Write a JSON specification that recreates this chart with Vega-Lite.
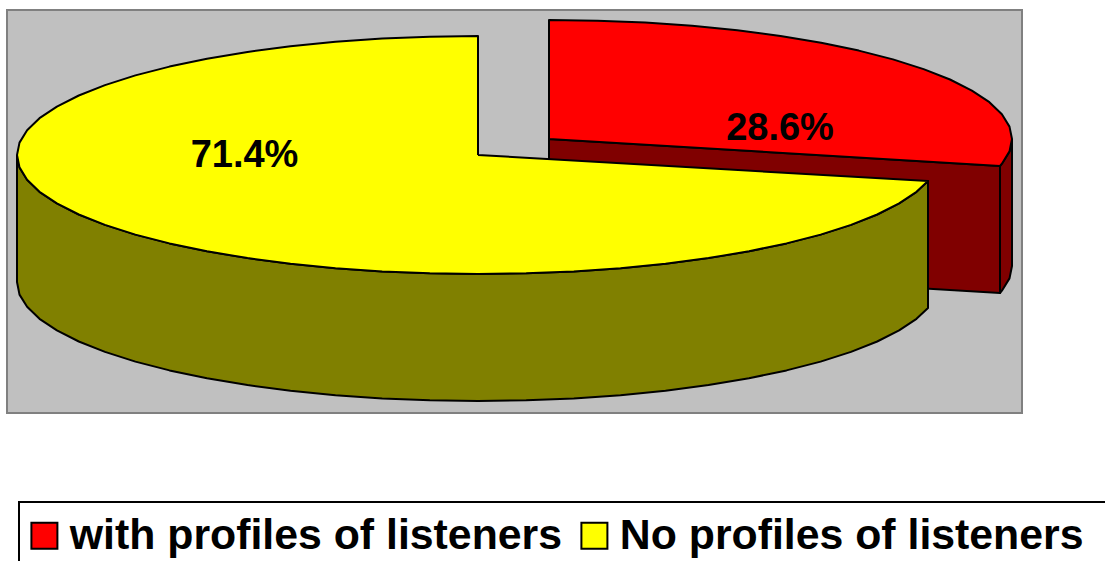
{
  "$schema": "https://vega.github.io/schema/vega-lite/v6.json",
  "width": 1015,
  "height": 403,
  "padding": {"left": 7, "top": 10, "right": 83, "bottom": 148},
  "autosize": {"type": "none"},
  "background": "white",
  "view": {"fill": "#c0c0c0", "stroke": "#808080", "strokeWidth": 2},
  "datasets": {
    "faces": [
      {"part": "redInner", "face": "with profiles of listeners, side"},
      {"part": "redWall", "face": "with profiles of listeners, side"},
      {"part": "redTop", "face": "with profiles of listeners"},
      {"part": "yellowWall", "face": "No profiles of listeners, side"},
      {"part": "yellowTop", "face": "No profiles of listeners"}
    ],
    "shares": [
      {"share": "71.4%", "x": 237.5, "y": 146},
      {"share": "28.6%", "x": 773, "y": 119}
    ],
    "legendFrame": [
      {"x": 12, "x2": 1140, "y": 492, "y2": 590}
    ],
    "outline": [
      {"part":"redInner","i":0,"x":542,"y":129},{"part":"redInner","i":1,"x":993,"y":156},{"part":"redInner","i":2,"x":993,"y":283},{"part":"redInner","i":3,"x":542,"y":256},{"part":"redInner","i":4,"x":542,"y":129},

      {"part":"redWall","i":0,"x":1005,"y":129},{"part":"redWall","i":1,"x":1002.5,"y":141.4},{"part":"redWall","i":2,"x":994.9,"y":153.7},{"part":"redWall","i":3,"x":993,"y":156},{"part":"redWall","i":4,"x":993,"y":283},{"part":"redWall","i":5,"x":994.9,"y":280.7},{"part":"redWall","i":6,"x":1002.5,"y":268.4},{"part":"redWall","i":7,"x":1005,"y":256},{"part":"redWall","i":8,"x":1005,"y":129},

      {"part":"redTop","i":0,"x":542,"y":129},{"part":"redTop","i":1,"x":542,"y":10},{"part":"redTop","i":2,"x":590.4,"y":10.7},{"part":"redTop","i":3,"x":638.3,"y":12.6},{"part":"redTop","i":4,"x":685.1,"y":15.8},{"part":"redTop","i":5,"x":730.3,"y":20.3},{"part":"redTop","i":6,"x":773.5,"y":25.9},{"part":"redTop","i":7,"x":814.1,"y":32.7},{"part":"redTop","i":8,"x":851.8,"y":40.6},{"part":"redTop","i":9,"x":886,"y":49.4},{"part":"redTop","i":10,"x":916.6,"y":59.1},{"part":"redTop","i":11,"x":943,"y":69.5},{"part":"redTop","i":12,"x":964.9,"y":80.6},{"part":"redTop","i":13,"x":982.4,"y":92.2},{"part":"redTop","i":14,"x":994.9,"y":104.3},{"part":"redTop","i":15,"x":1002.5,"y":116.6},{"part":"redTop","i":16,"x":1005,"y":129},{"part":"redTop","i":17,"x":1002.5,"y":141.4},{"part":"redTop","i":18,"x":994.9,"y":153.7},{"part":"redTop","i":19,"x":993,"y":156},{"part":"redTop","i":20,"x":542,"y":129},

      {"part":"yellowWall","i":0,"x":10,"y":145},{"part":"yellowWall","i":1,"x":12.5,"y":157.4},{"part":"yellowWall","i":2,"x":20.1,"y":169.7},{"part":"yellowWall","i":3,"x":32.5,"y":181.8},{"part":"yellowWall","i":4,"x":49.9,"y":193.4},{"part":"yellowWall","i":5,"x":71.8,"y":204.5},{"part":"yellowWall","i":6,"x":98,"y":214.9},{"part":"yellowWall","i":7,"x":128.4,"y":224.6},{"part":"yellowWall","i":8,"x":162.5,"y":233.4},{"part":"yellowWall","i":9,"x":200,"y":241.3},{"part":"yellowWall","i":10,"x":240.5,"y":248.1},{"part":"yellowWall","i":11,"x":283.5,"y":253.7},{"part":"yellowWall","i":12,"x":328.5,"y":258.2},{"part":"yellowWall","i":13,"x":375.2,"y":261.4},{"part":"yellowWall","i":14,"x":422.8,"y":263.3},{"part":"yellowWall","i":15,"x":471,"y":264},{"part":"yellowWall","i":16,"x":519.2,"y":263.3},{"part":"yellowWall","i":17,"x":566.8,"y":261.4},{"part":"yellowWall","i":18,"x":613.5,"y":258.2},{"part":"yellowWall","i":19,"x":658.5,"y":253.7},{"part":"yellowWall","i":20,"x":701.5,"y":248.1},{"part":"yellowWall","i":21,"x":742,"y":241.3},{"part":"yellowWall","i":22,"x":779.5,"y":233.4},{"part":"yellowWall","i":23,"x":813.6,"y":224.6},{"part":"yellowWall","i":24,"x":844,"y":214.9},{"part":"yellowWall","i":25,"x":870.2,"y":204.5},{"part":"yellowWall","i":26,"x":892.1,"y":193.4},{"part":"yellowWall","i":27,"x":909.5,"y":181.8},{"part":"yellowWall","i":28,"x":921,"y":171},
      {"part":"yellowWall","i":29,"x":921,"y":298},{"part":"yellowWall","i":30,"x":909.5,"y":308.8},{"part":"yellowWall","i":31,"x":892.1,"y":320.4},{"part":"yellowWall","i":32,"x":870.2,"y":331.5},{"part":"yellowWall","i":33,"x":844,"y":341.9},{"part":"yellowWall","i":34,"x":813.6,"y":351.6},{"part":"yellowWall","i":35,"x":779.5,"y":360.4},{"part":"yellowWall","i":36,"x":742,"y":368.3},{"part":"yellowWall","i":37,"x":701.5,"y":375.1},{"part":"yellowWall","i":38,"x":658.5,"y":380.7},{"part":"yellowWall","i":39,"x":613.5,"y":385.2},{"part":"yellowWall","i":40,"x":566.8,"y":388.4},{"part":"yellowWall","i":41,"x":519.2,"y":390.3},{"part":"yellowWall","i":42,"x":471,"y":391},{"part":"yellowWall","i":43,"x":422.8,"y":390.3},{"part":"yellowWall","i":44,"x":375.2,"y":388.4},{"part":"yellowWall","i":45,"x":328.5,"y":385.2},{"part":"yellowWall","i":46,"x":283.5,"y":380.7},{"part":"yellowWall","i":47,"x":240.5,"y":375.1},{"part":"yellowWall","i":48,"x":200,"y":368.3},{"part":"yellowWall","i":49,"x":162.5,"y":360.4},{"part":"yellowWall","i":50,"x":128.4,"y":351.6},{"part":"yellowWall","i":51,"x":98,"y":341.9},{"part":"yellowWall","i":52,"x":71.8,"y":331.5},{"part":"yellowWall","i":53,"x":49.9,"y":320.4},{"part":"yellowWall","i":54,"x":32.5,"y":308.8},{"part":"yellowWall","i":55,"x":20.1,"y":296.7},{"part":"yellowWall","i":56,"x":12.5,"y":284.6},{"part":"yellowWall","i":57,"x":10,"y":272},{"part":"yellowWall","i":58,"x":10,"y":145},

      {"part":"yellowTop","i":0,"x":471,"y":145},{"part":"yellowTop","i":1,"x":471,"y":26},{"part":"yellowTop","i":2,"x":422.8,"y":26.7},{"part":"yellowTop","i":3,"x":375.2,"y":28.6},{"part":"yellowTop","i":4,"x":328.5,"y":31.8},{"part":"yellowTop","i":5,"x":283.5,"y":36.3},{"part":"yellowTop","i":6,"x":240.5,"y":41.9},{"part":"yellowTop","i":7,"x":200,"y":48.7},{"part":"yellowTop","i":8,"x":162.5,"y":56.6},{"part":"yellowTop","i":9,"x":128.4,"y":65.4},{"part":"yellowTop","i":10,"x":98,"y":75.1},{"part":"yellowTop","i":11,"x":71.8,"y":85.5},{"part":"yellowTop","i":12,"x":49.9,"y":96.6},{"part":"yellowTop","i":13,"x":32.5,"y":108.2},{"part":"yellowTop","i":14,"x":20.1,"y":120.3},{"part":"yellowTop","i":15,"x":12.5,"y":132.6},{"part":"yellowTop","i":16,"x":10,"y":145},{"part":"yellowTop","i":17,"x":12.5,"y":157.4},{"part":"yellowTop","i":18,"x":20.1,"y":169.7},{"part":"yellowTop","i":19,"x":32.5,"y":181.8},{"part":"yellowTop","i":20,"x":49.9,"y":193.4},{"part":"yellowTop","i":21,"x":71.8,"y":204.5},{"part":"yellowTop","i":22,"x":98,"y":214.9},{"part":"yellowTop","i":23,"x":128.4,"y":224.6},{"part":"yellowTop","i":24,"x":162.5,"y":233.4},{"part":"yellowTop","i":25,"x":200,"y":241.3},{"part":"yellowTop","i":26,"x":240.5,"y":248.1},{"part":"yellowTop","i":27,"x":283.5,"y":253.7},{"part":"yellowTop","i":28,"x":328.5,"y":258.2},{"part":"yellowTop","i":29,"x":375.2,"y":261.4},{"part":"yellowTop","i":30,"x":422.8,"y":263.3},{"part":"yellowTop","i":31,"x":471,"y":264},{"part":"yellowTop","i":32,"x":519.2,"y":263.3},{"part":"yellowTop","i":33,"x":566.8,"y":261.4},{"part":"yellowTop","i":34,"x":613.5,"y":258.2},{"part":"yellowTop","i":35,"x":658.5,"y":253.7},{"part":"yellowTop","i":36,"x":701.5,"y":248.1},{"part":"yellowTop","i":37,"x":742,"y":241.3},{"part":"yellowTop","i":38,"x":779.5,"y":233.4},{"part":"yellowTop","i":39,"x":813.6,"y":224.6},{"part":"yellowTop","i":40,"x":844,"y":214.9},{"part":"yellowTop","i":41,"x":870.2,"y":204.5},{"part":"yellowTop","i":42,"x":892.1,"y":193.4},{"part":"yellowTop","i":43,"x":909.5,"y":181.8},{"part":"yellowTop","i":44,"x":921,"y":171},{"part":"yellowTop","i":45,"x":471,"y":145}
    ]
  },
  "layer": [
    {
      "data": {"name": "outline"},
      "transform": [
        {"lookup": "part", "from": {"data": {"name": "faces"}, "key": "part", "fields": ["face"]}}
      ],
      "mark": {"type": "line", "stroke": "black", "strokeWidth": 2, "strokeJoin": "round", "clip": false},
      "encoding": {
        "x": {"field": "x", "type": "quantitative", "scale": {"domain": [0, 1015], "nice": false, "zero": false}, "axis": null},
        "y": {"field": "y", "type": "quantitative", "scale": {"domain": [0, 403], "nice": false, "zero": false, "reverse": true}, "axis": null},
        "detail": {"field": "part"},
        "order": {"field": "i", "type": "quantitative"},
        "fill": {
          "field": "face",
          "type": "nominal",
          "sort": null,
          "scale": {
            "domain": ["with profiles of listeners", "No profiles of listeners", "with profiles of listeners, side", "No profiles of listeners, side"],
            "range": ["#ff0000", "#ffff00", "#800000", "#808000"]
          },
          "legend": {
            "title": null,
            "values": ["with profiles of listeners", "No profiles of listeners"],
            "orient": "none",
            "legendX": 12,
            "legendY": 492,
            "direction": "horizontal",
            "columns": 2,
            "padding": 12,
            "symbolType": "square",
            "symbolSize": 676,
            "symbolOffset": -8,
            "symbolStrokeColor": "black",
            "symbolStrokeWidth": 2,
            "symbolOpacity": 1,
            "labelFont": "Liberation Sans",
            "labelFontWeight": "bold",
            "labelFontSize": 42.8,
            "labelColor": "black",
            "labelLimit": 0,
            "labelOffset": 4,
            "columnPadding": 14
          }
        }
      }
    },
    {
      "data": {"name": "legendFrame"},
      "mark": {"type": "rect", "fill": "white", "fillOpacity": 0, "stroke": "black", "strokeWidth": 2, "clip": false},
      "encoding": {
        "x": {"field": "x", "type": "quantitative"},
        "x2": {"field": "x2"},
        "y": {"field": "y", "type": "quantitative"},
        "y2": {"field": "y2"}
      }
    },
    {
      "data": {"name": "shares"},
      "mark": {"type": "text", "font": "Liberation Sans", "fontWeight": "bold", "fontSize": 38, "color": "black", "align": "center", "baseline": "middle"},
      "encoding": {
        "x": {"field": "x", "type": "quantitative"},
        "y": {"field": "y", "type": "quantitative"},
        "text": {"field": "share", "type": "nominal"}
      }
    }
  ]
}
